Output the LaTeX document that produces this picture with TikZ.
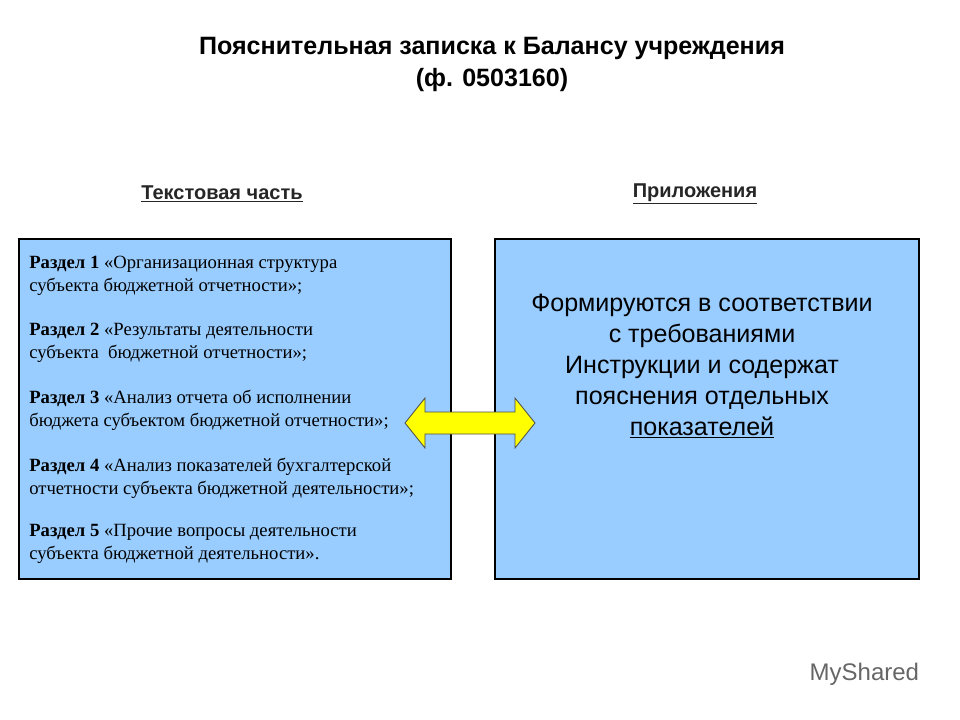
\documentclass[tikz,border=0pt]{standalone}
\usepackage{fontspec}
\setmainfont{Liberation Serif}
\newfontfamily\arial{Liberation Sans}
\definecolor{boxblue}{RGB}{153,204,255}
\definecolor{arrowyel}{RGB}{255,255,0}
\begin{document}
\begin{tikzpicture}[x=0.75pt,y=-0.75pt,
  panel/.style={draw=black,fill=boxblue,line width=0.8pt},
  sect/.style={anchor=west,font=\fontsize{14}{17.2}\selectfont,align=left,inner sep=0},
  head/.style={font=\arial\bfseries\fontsize{15}{16}\selectfont,text=black!85}]
\useasboundingbox (0,0) rectangle (960,720);
\node[font=\arial\bfseries\fontsize{18.8}{24}\selectfont,align=center] (title) at (492,64) {Пояснительная записка к Балансу учреждения\\(ф. 0503160)};
\node[head] (h1) at (222,194) {\underline{Текстовая часть}};
\node[head] (h2) at (695,194) {\underline{Приложения}};
\draw[panel] (19,239) rectangle (451,579) coordinate (lb);
\draw[panel] (495,239) rectangle (919,579) coordinate (rb);
\node[sect] (s1) at (29,276) {\textbf{Раздел 1} «Организационная структура\\субъекта бюджетной отчетности»;};
\node[sect] (s2) at (29,343) {\textbf{Раздел 2} «Результаты деятельности\\субъекта\ \ бюджетной отчетности»;};
\node[sect] (s3) at (29,410) {\textbf{Раздел 3} «Анализ отчета об исполнении\\бюджета субъектом бюджетной отчетности»;};
\node[sect] (s4) at (29,478) {\textbf{Раздел 4} «Анализ показателей бухгалтерской\\отчетности субъекта бюджетной деятельности»;};
\node[sect] (s5) at (29,544) {\textbf{Раздел 5} «Прочие вопросы деятельности\\субъекта бюджетной деятельности».};
\node[font=\arial\fontsize{18.8}{23.2}\selectfont,align=center] (rt) at (702,366) {Формируются в соответствии\\с требованиями\\Инструкции и содержат\\пояснения отдельных\\\underline{показателей}};
\draw[fill=arrowyel,draw=black!70,line width=0.6pt] (405,423) -- (425,398) -- (425,412) -- (515,412) -- (515,398) -- (535,423) -- (515,448) -- (515,434) -- (425,434) -- (425,448) -- cycle;
\node[font=\arial\fontsize{18}{20}\selectfont,text=black!60,anchor=west] (wm) at (805,674) {MyShared};
\end{tikzpicture}
\end{document}
